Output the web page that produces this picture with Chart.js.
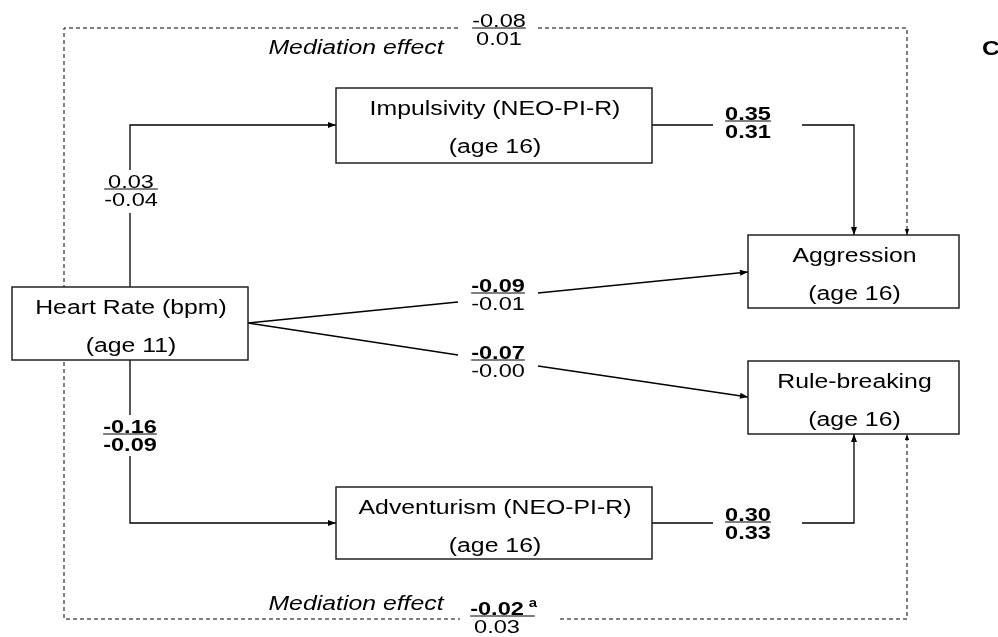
<!DOCTYPE html>
<html>
<head>
<meta charset="utf-8">
<script src="https://cdn.jsdelivr.net/npm/chart.js@4.4.1/dist/chart.umd.min.js"></script>
<style>
  html, body { margin: 0; padding: 0; background: #fff; }
  #wrap { width: 998px; height: 637px; position: relative; }
</style>
</head>
<body>
<div id="wrap"><canvas id="c"></canvas></div>
<script>
// ---------- data ----------
const nodeTitles = ['Heart Rate (bpm)', 'Impulsivity (NEO-PI-R)', 'Adventurism (NEO-PI-R)', 'Aggression', 'Rule-breaking'];
const nodeAges   = ['(age 11)', '(age 16)', '(age 16)', '(age 16)', '(age 16)'];
// path coefficients: HR->Imp, HR->Adv, Imp->Agg, Adv->RB, HR->Agg, HR->RB, mediation Agg, mediation RB
const coefTop    = ['0.03', '-0.16', '0.35', '0.30', '-0.09', '-0.07', '-0.08', '-0.02'];
const coefBottom = ['-0.04', '-0.09', '0.31', '0.33', '-0.01', '-0.00', '0.01', '0.03'];
const topBold    = [false, true, true, true, true, true, false, true];
const bottomBold = [false, true, true, true, false, false, false, false];
const coefNotes  = ['', '', '', '', '', '', '', 'a'];
const mediationLabel = 'Mediation effect';
const panelLabel = 'C';

// ---------- layout (diagram coordinates) ----------
const boxes = [
  {x0: 12,  y0: 287, x1: 248, y1: 360},
  {x0: 336, y0: 88,  x1: 652, y1: 163},
  {x0: 336, y0: 487, x1: 652, y1: 559},
  {x0: 748, y0: 235, x1: 959, y1: 308},
  {x0: 748, y0: 361, x1: 959, y1: 434}
];
const connectors = [
  {pts: [[130,287],[130,213]]},
  {pts: [[130,170],[130,125],[336,125]], arrow: true},
  {pts: [[130,360],[130,415]]},
  {pts: [[130,456],[130,523],[336,523]], arrow: true},
  {pts: [[652,125],[713,125]]},
  {pts: [[802,125],[854,125],[854,235]], arrow: true},
  {pts: [[652,523],[713,523]]},
  {pts: [[802,523],[854,523],[854,434]], arrow: true},
  {pts: [[248,323],[458,302]]},
  {pts: [[538,293],[748,272]], arrow: true},
  {pts: [[248,323],[458,355]]},
  {pts: [[538,366],[748,397]], arrow: true},
  {pts: [[458,28],[64,28],[64,619],[460,619]], dashed: true},
  {pts: [[538,28],[907,28],[907,235]], dashed: true, arrow: true},
  {pts: [[560,619],[907,619],[907,434]], dashed: true, arrow: true}
];
const labelPos = [
  {x: 131, bar: 189}, {x: 130, bar: 434}, {x: 748, bar: 121}, {x: 748, bar: 522},
  {x: 498, bar: 293}, {x: 498, bar: 360}, {x: 499, bar: 28}, {x: 497, bar: 616}
];
const mediationPos = [{x: 356, y: 54}, {x: 356, y: 610}];
const SX = 1.24;
const FONT = '"Liberation Sans", Arial, sans-serif';

const datasets = connectors.map(c => ({
  data: c.pts.map(p => ({x: p[0], y: p[1]})),
  showLine: true,
  borderColor: '#000',
  borderWidth: c.dashed ? 1 : 1.3,
  borderDash: c.dashed ? [4, 3] : [],
  pointRadius: 0,
  fill: false,
  tension: 0,
  clip: false
}));

function txt(ctx, s, x, y, font, align) {
  ctx.save();
  ctx.translate(x, y);
  ctx.scale(SX, 1);
  ctx.font = font;
  ctx.textAlign = align || 'center';
  ctx.textBaseline = 'alphabetic';
  ctx.fillStyle = '#000';
  ctx.fillText(s, 0, 0);
  ctx.restore();
}
function tw(ctx, s, font) { ctx.save(); ctx.font = font; const w = ctx.measureText(s).width * SX; ctx.restore(); return w; }

const diagramPlugin = {
  id: 'diagram',
  afterDatasetsDraw(chart) {
    const ctx = chart.ctx, xs = chart.scales.x, ys = chart.scales.y;
    const X = v => xs.getPixelForValue(v), Y = v => ys.getPixelForValue(v);
    // arrowheads
    connectors.forEach(c => {
      if (!c.arrow) return;
      const n = c.pts.length;
      const [ax, ay] = c.pts[n-1], [bx, by] = c.pts[n-2];
      const px = X(ax), py = Y(ay), qx = X(bx), qy = Y(by);
      const ang = Math.atan2(py - qy, px - qx);
      const L = c.dashed ? 6 : 8, Wd = c.dashed ? 2.2 : 3;
      ctx.save();
      ctx.translate(px, py); ctx.rotate(ang);
      ctx.beginPath(); ctx.moveTo(0, 0); ctx.lineTo(-L, -Wd); ctx.lineTo(-L, Wd); ctx.closePath();
      ctx.fillStyle = '#000'; ctx.fill();
      ctx.restore();
    });
    // boxes
    boxes.forEach((b, i) => {
      const x0 = X(b.x0), y0 = Y(b.y0), x1 = X(b.x1), y1 = Y(b.y1);
      ctx.save();
      ctx.fillStyle = '#fff';
      ctx.fillRect(x0, y0, x1 - x0, y1 - y0);
      ctx.strokeStyle = '#222'; ctx.lineWidth = 1.5;
      ctx.strokeRect(x0, y0, x1 - x0, y1 - y0);
      ctx.restore();
      const cx = (x0 + x1) / 2 + 1;
      txt(ctx, nodeTitles[i], cx, y0 + 26.5, '20px ' + FONT);
      txt(ctx, nodeAges[i], cx, y0 + 65, '20px ' + FONT);
    });
    // coefficient labels
    coefTop.forEach((t, i) => {
      const p = labelPos[i];
      const cx = X(p.x), bar = Y(p.bar);
      const fT = (topBold[i] ? 'bold ' : '') + '19px ' + FONT;
      const fB = (bottomBold[i] ? 'bold ' : '') + '19px ' + FONT;
      txt(ctx, t, cx, bar - 1.5, fT);
      txt(ctx, coefBottom[i], cx, bar + 16.5, fB);
      let w = Math.max(tw(ctx, t, fT), tw(ctx, coefBottom[i], fB));
      let left = cx - w / 2, right = cx + w / 2;
      if (coefNotes[i]) {
        const tr = cx + tw(ctx, t, fT) / 2;
        txt(ctx, coefNotes[i], tr + 5, bar - 9, 'bold 12px ' + FONT, 'left');
        right = tr + 11;
      }
      ctx.save();
      ctx.strokeStyle = '#000'; ctx.lineWidth = 1.2;
      ctx.beginPath(); ctx.moveTo(left, bar); ctx.lineTo(right, bar); ctx.stroke();
      ctx.restore();
    });
    // mediation labels
    mediationPos.forEach(m => txt(ctx, mediationLabel, X(m.x), Y(m.y), 'italic 20px ' + FONT));
    txt(ctx, panelLabel, X(982), Y(55), 'bold 20px ' + FONT, 'left');
  }
};

new Chart(document.getElementById('c'), {
  type: 'scatter',
  data: { datasets },
  options: {
    responsive: true,
    maintainAspectRatio: false,
    animation: false,
    events: [],
    layout: { padding: 0 },
    plugins: { legend: { display: false }, tooltip: { enabled: false } },
    scales: {
      x: { type: 'linear', min: 0, max: 998, display: false },
      y: { type: 'linear', min: 0, max: 637, reverse: true, display: false }
    }
  },
  plugins: [diagramPlugin]
});
</script>
</body>
</html>
